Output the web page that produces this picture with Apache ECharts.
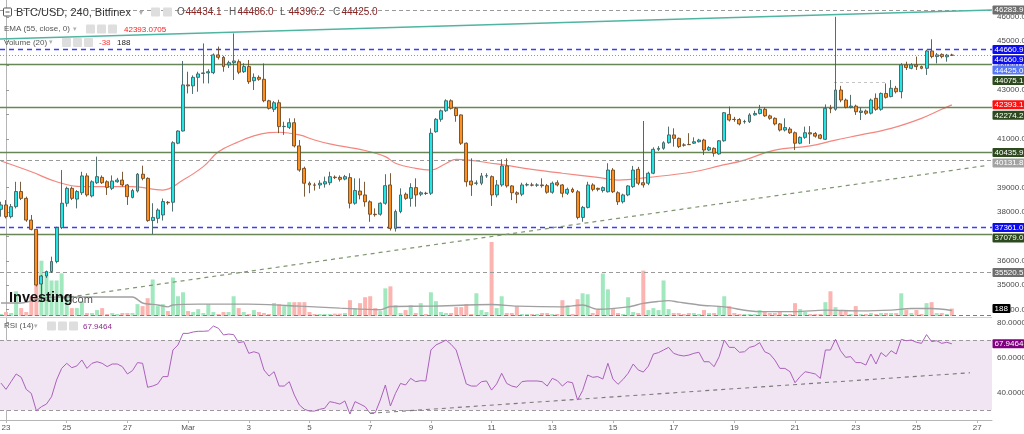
<!DOCTYPE html>
<html><head><meta charset="utf-8">
<script src="https://cdn.jsdelivr.net/npm/echarts@6.0.0/dist/echarts.min.js"></script>
<style>html,body{margin:0;padding:0;background:#fff}#c{width:1024px;height:434px}</style>
</head><body><div id="c"></div><script>
// ---- DATA (4-hour candles, index 0 = 23 Feb 00:00) ----
const START_INDEX = -1;
// [open, close, low, high]
const candles = [
 [38110,38290,37810,38420],
 [38290,37810,37740,38490],[37810,38220,37740,38330],[38220,38840,38150,39240],[38840,38560,38490,39240],[38560,37670,37600,38630],[37670,37290,37250,37880],
 [37290,35010,34950,37290],[35050,35380,34330,35420],[35380,35560,35300,35600],[35560,35970,35500,36170],[35970,37360,35900,37400],[37360,38360,37300,39720],
 [38360,38970,38220,39040],[38970,38560,38490,39040],[38530,38840,38150,38900],[38790,39480,38700,39650],[39480,38700,38630,39590],[38660,39240,38600,39300],
 [39200,39450,39150,40270],[39420,39200,39150,39500],[39240,39010,38700,39300],[38970,39270,38900,39500],[39240,39310,39200,39400],[39310,39110,39040,39650],
 [39110,38630,38290,39150],[38600,38880,38560,38950],[38860,39550,38800,39600],[39550,39380,39300,39900],[39380,37650,37600,39420],[37650,37780,37090,38360],
 [37740,38080,37540,38150],[37880,38430,37650,38550],[38400,38380,38300,38450],[38400,40840,38020,40900],[40820,41320,40780,41350],[41320,43210,41300,44190],
 [43210,43170,42860,43750],[43170,43520,42840,43600],[43520,43660,42930,43750],[43680,43700,43270,44910],[43700,43750,43270,43850],[43710,44440,43650,44500],
 [44440,44340,44250,44780],[44340,43960,43750,44400],[44030,44120,43900,44200],[44120,44190,43410,45320],[44160,43730,43650,44250],[43750,43960,43700,44100],
 [43960,43340,43250,44230],[43380,43520,43000,43680],[43520,43440,43380,43600],[43440,42560,42500,44090],[42560,42250,42200,42600],[42210,42480,42100,42550],
 [42480,41500,41230,42600],[41500,41510,41160,41700],[41470,41660,41400,41840],[41660,40710,40650,41840],[40710,39720,39650,40950],[39790,39180,38630,39860],
 [39180,39110,38770,39250],[39110,39100,38880,39200],[39110,39180,38950,39300],[39150,39240,39000,39450],[39200,39450,39100,39650],[39430,39410,39350,39500],
 [39420,39340,39250,39500],[39350,39450,39300,39520],[39410,38360,38150,39590],[38360,38880,38300,39380],[38860,38700,38520,39380],[38700,38420,38220,39240],
 [38420,37910,37600,38480],[37910,37890,37810,38150],[37910,38360,37850,38400],[38360,39080,38300,39550],[39110,37330,37240,39590],[37330,38020,37200,38100],
 [38020,38700,37950,38970],[38730,38560,38500,38800],[38560,39000,38220,39180],[39000,38700,38220,39380],[38730,38790,38650,38850],[38770,38760,38700,38830],
 [38770,41230,38700,41430],[41290,41800,41250,41850],[41800,42150,41700,42200],[42150,42560,42100,42620],[42560,42250,42200,42620],[42250,41950,41700,42300],
 [41980,40820,40750,42000],[40820,39240,39040,40850],[39270,39110,38660,40200],[39180,39190,39100,39300],[39180,39480,39100,39600],[39480,39490,39400,39590],
 [39450,38700,38250,39500],[38700,39110,38600,39310],[39110,39890,39040,40160],[39890,39070,39000,40200],[39070,38790,38490,39100],[38790,38730,38360,38850],
 [38730,39110,38650,39200],[39110,39120,39050,39200],[39110,39100,39050,39200],[39100,39110,39030,39180],[39110,39080,39000,39380],[39080,38810,38750,39150],
 [38810,39180,38750,39250],[39200,39110,39050,39300],[39110,38770,38600,39150],[38770,38930,38700,39000],[38930,38830,38780,39000],[38830,37780,37700,38900],
 [37780,38190,37600,38250],[38190,39110,38150,39240],[39110,38930,38850,39180],[38970,38930,38850,39000],[38880,39000,38800,39050],[38830,39720,38800,40000],
 [39720,38830,38780,39800],[38790,38420,38290,38850],[38420,38700,38350,38750],[38700,39070,38650,39100],[39040,39720,38990,39890],[39750,39180,39100,39850],
 [39200,39110,39000,41730],[39180,39590,39100,39650],[39590,40570,39550,40650],[40570,40610,40500,40700],[40610,40840,40550,40900],[40840,41160,40800,41500],
 [41160,41020,40680,41430],[41020,40680,40620,41050],[40750,40740,40680,40820],[40770,40760,40750,41230],[40820,40880,40790,41060],[40880,40950,40850,41000],
 [40950,40540,40340,41000],[40540,40640,40500,40700],[40610,40410,40270,40650],[40380,40920,40350,40950],[40920,42070,40880,42100],[42000,41770,41710,42320],
 [41800,41790,41700,41900],[41790,41610,41550,41850],[41700,41710,41620,41780],[41700,41980,41650,42050],[41980,42040,41950,42150],[42040,42210,42000,42390],
 [42210,41940,41900,42290],[41940,41840,41780,41990],[41840,41610,41550,41880],[41610,41360,41300,41650],[41360,41460,41300,41840],[41400,41250,41200,41480],
 [41250,40820,40540,41300],[40820,41060,40780,41100],[41060,41250,41000,41500],[41250,41200,40790,41520],[41220,41110,41050,41280],[41160,41020,40980,41200],
 [40980,42250,40950,42410],[42250,42230,42050,42390],[42210,43000,42150,46000],[43000,42590,42500,43170],[42590,42290,42250,42650],[42290,42340,42250,42800],
 [42340,42110,41980,42400],[42080,42140,41770,42290],[42140,42050,41980,42200],[42050,42590,42000,42650],[42660,42210,42150,42860],[42210,42860,42150,42900],
 [42860,42700,42650,43270],[42730,43070,42700,43410],[43070,42930,42860,43170],[42930,44030,42660,44100],[44030,43920,43820,44160],[43890,44030,43850,44100],
 [44030,43960,43820,44370],[43960,43890,43850,44000],[43890,44600,43620,44650],[44600,44370,44300,45080],[44370,44440,44090,44520],[44460,44370,44300,44500],
 [44360,44430,44160,44480],[44434.1,44425.0,44396.2,44486.0]
];
const volumes = [
 50,
 100,75,625,200,100,500,
 2150,1400,1130,900,900,1080,
 500,200,200,375,75,75,
 150,200,50,75,50,75,
 75,75,300,250,450,925,
 250,300,125,975,500,600,
 125,100,175,75,300,100,
 50,100,100,500,200,100,
 50,150,100,75,50,330,
 300,250,350,350,350,350,
 100,50,50,50,50,60,
 60,75,400,200,325,475,
 500,200,125,700,750,275,
 75,150,275,75,325,50,
 600,375,100,75,75,225,
 225,300,50,575,150,100,
 1875,200,500,75,75,250,
 50,50,50,50,75,75,
 50,50,400,275,50,425,
 575,550,75,150,1075,675,
 175,75,50,475,100,75,
 1150,150,200,150,900,175,
 75,75,50,75,75,50,
 150,75,75,250,500,250,
 75,50,50,50,50,150,
 100,75,75,100,50,50,
 325,175,100,50,50,50,
 350,625,225,150,125,50,
 250,50,50,75,50,75,
 75,75,75,575,150,75,
 150,50,325,350,75,75,
 50,188
];
const rsiValues = [
 45.5,
 41.9,46.3,50.7,48.8,41.9,39.6,
 29.7,32,33.5,37.7,47.3,53.9,
 56.8,54.3,55.3,58.7,53.9,56.8,
 57.7,56.8,54.9,56.4,56.4,54.9,
 50.7,52.6,57.2,56.8,43.1,43.8,
 45,49.2,49.2,64.4,67.3,73.9,
 73.9,74.7,75.1,75.1,75.3,78.1,
 76.8,73,73.5,73.2,68.6,69.2,
 62.5,63.4,62.5,53,49.5,52,
 43.8,43.8,46.3,38.7,33,30.5,
 29.5,29.5,30.5,31.1,34.9,34.3,
 33.5,35.3,27.8,34.9,33.5,32,
 28.2,28.6,35.8,44.4,32.4,39.6,
 45.3,44.4,48.2,46.3,46.9,46.7,
 64.4,67.3,68.6,70.1,67.6,64.4,
 54.9,45,43.8,43.8,46.3,46.7,
 41.5,45,51.1,45.3,43.8,43.1,
 46.3,46.7,46.7,46.7,46.3,43.8,
 48.2,46.9,43.8,46.3,45.7,35.8,
 41.2,50.1,48.8,49.2,47.8,56.8,
 47.8,44.8,47.6,51.1,56.4,53,
 51.8,55.2,62.1,62.9,64.4,65.9,
 62.5,61.5,61,61.5,62.5,63.1,
 57.7,57.7,54.9,60.6,70.1,65.9,
 65.9,63.1,63.4,65.9,66.7,68.6,
 63.4,62.1,58.7,53.9,53.9,52,
 45.7,49.2,52,51.4,50.7,48.2,
 64.4,64.4,70.5,64,60.2,60.6,
 57.2,57.2,55.8,62.1,56.4,62.9,
 60.6,64,62.1,70.5,69.7,70.1,
 68.8,68.2,73.2,69.2,69.7,68.2,
 68.8,67.95
];
// [candle index, value]
const emaPoints = [[-1,40090],[5,39650],[10,39240],[15,39040],[25,39040],[31,38900],[35,39310],[39,39860],[42,40470],[46,40880],[49,41120],[52,41250],[54,41270],[58,41160],[61,40950],[64,40790],[71,40520],[75,40270],[77,40000],[81,39790],[84,39720],[87,39990],[89,40160],[97,39970],[104,39750],[110,39590],[117,39420],[121,39310],[127,39420],[136,39650],[141,39890],[146,40130],[152,40540],[159,40710],[164,40950],[169,41160],[175,41430],[181,41840],[185,42210],[187,42393]];
const volumeMaPoints = [[-1,330],[3,330],[7,450],[11,480],[19,480],[25,480],[27,330],[30,280],[32,230],[33,280],[38,300],[48,300],[58,250],[66,200],[74,160],[76,240],[84,250],[96,290],[101,250],[110,230],[114,280],[117,170],[123,230],[126,320],[129,370],[131,390],[133,350],[137,280],[142,230],[149,110],[156,110],[162,150],[169,130],[175,150],[179,190],[183,190],[187,140]];
const grayLevels = [46283.9, 40131.8, 35520.5];
const blueLevels = [44660.9, 37361.0];
const greenLevels = [44075.1, 42274.2, 40435.9, 37079.0];
const lastPrice = 44425.0;
const lastEma = 42393.0705;
const lastVolume = 188;
const volumeChange = -38;
const lastRsi = 67.9464;
const ohlcLegend = [44434.1, 44486.0, 44396.2, 44425.0];
const tealTrend = [[-1.19, 45091], [194.94, 46279]];
const supportTrend = [[6.33, 34330], [193.6, 39900]];
const spikeLevel = [[163.7, 43300], [173.8, 43300]];
const rsiTrend = [[71.97, 28.2], [190.6, 51.4]];
const rsiBands = [30, 70];
const priceTicks = [34000,35000,36000,37000,38000,39000,40000,41000,42000,43000,44000,45000,46000];
const rsiTicks = [40, 60, 80];
const dayTicks = [0,12,24,36,48,60,72,84,96,108,120,132,144,156,168,180,192];
const dayLabels = ['23','25','27','Mar','3','5','7','9','11','13','15','17','19','21','23','25','27'];

// ---- CHART ----
const FONT = '"Liberation Sans", Arial, sans-serif';
const X_MIN = -1.19, X_MAX = 194.94;
const PRICE_MIN = 33739, PRICE_MAX = 46689;
const VOLUME_MAX = 8000;
const RSI_MIN = 24.4, RSI_MAX = 82.69;

const chart = echarts.init(document.getElementById('c'), null, {renderer: 'canvas'});
const isUp = candles.map(c => c[1] >= c[0]);
const candleData = candles.map((c, k) => [START_INDEX + k, c[0], c[1], c[2], c[3]]);
const volumeData = volumes.map((v, k) => ({value: [START_INDEX + k, v], itemStyle: {color: isUp[k] ? '#a1e8bf' : '#fbb4af'}}));
const rsiData = rsiValues.map((v, k) => [START_INDEX + k, v]);

const priceLines = [];
grayLevels.forEach(v => priceLines.push({yAxis: v, lineStyle: {color: '#9a9a9a', type: [4, 3], width: 1}}));
blueLevels.forEach(v => priceLines.push({yAxis: v, lineStyle: {color: '#3c3cff', type: [5, 4], width: 1.4}}));
greenLevels.forEach(v => priceLines.push({yAxis: v, lineStyle: {color: '#688656', type: 'solid', width: 1.3}}));
priceLines.push({yAxis: lastPrice, lineStyle: {color: '#7d8cff', type: [1, 2], width: 1}});
priceLines.push([{coord: tealTrend[0], lineStyle: {color: '#4fb5a0', width: 1.6, type: 'solid'}}, {coord: tealTrend[1]}]);
priceLines.push([{coord: supportTrend[0], lineStyle: {color: '#7f9670', width: 1.2, type: [4, 4]}}, {coord: supportTrend[1]}]);
priceLines.push([{coord: spikeLevel[0], lineStyle: {color: '#c4c4c4', width: 1, type: [3, 3]}}, {coord: spikeLevel[1]}]);

const option = {
  animation: false,
  backgroundColor: '#ffffff',
  textStyle: {fontFamily: FONT},
  grid: [
    {left: 0, right: 32, top: 0, height: 316, containLabel: false, outerBoundsMode: 'none'},
    {left: 0, right: 32, top: 318, height: 102, containLabel: false, outerBoundsMode: 'none'}
  ],
  xAxis: [
    {type: 'value', gridIndex: 0, min: X_MIN, max: X_MAX, show: false},
    {type: 'value', gridIndex: 1, min: X_MIN, max: X_MAX, splitLine: {show: false},
     axisLine: {show: true, lineStyle: {color: '#b5b5b5'}},
     axisTick: {show: true, customValues: dayTicks, length: 3, lineStyle: {color: '#b5b5b5'}},
     axisLabel: {customValues: dayTicks, formatter: v => dayLabels[dayTicks.indexOf(v)] || '', color: '#555', fontSize: 8, margin: 4, fontFamily: FONT}}
  ],
  yAxis: [
    {type: 'value', gridIndex: 0, position: 'right', min: PRICE_MIN, max: PRICE_MAX,
     splitLine: {show: false}, axisLine: {show: true, lineStyle: {color: '#b5b5b5'}},
     axisTick: {show: true, customValues: priceTicks, length: 3, lineStyle: {color: '#999'}},
     axisLabel: {show: false}},
    {type: 'value', gridIndex: 0, min: 0, max: VOLUME_MAX, show: false},
    {type: 'value', gridIndex: 1, position: 'right', min: RSI_MIN, max: RSI_MAX,
     splitLine: {show: false}, axisLine: {show: true, lineStyle: {color: '#b5b5b5'}},
     axisTick: {show: true, customValues: rsiTicks, length: 3, lineStyle: {color: '#999'}},
     axisLabel: {show: false}}
  ],
  series: [
    {type: 'bar', name: 'Volume', xAxisIndex: 0, yAxisIndex: 1, data: volumeData, barWidth: 4, z: 1, silent: true,
     markLine: {silent: true, symbol: ['none', 'none'], label: {show: false},
       data: [{yAxis: 20, lineStyle: {color: '#2fb52f', type: [4, 3], width: 1.2}}]}},
    {type: 'line', name: 'VolMA', xAxisIndex: 0, yAxisIndex: 1, data: volumeMaPoints, showSymbol: false, smooth: 0.3,
     lineStyle: {color: '#a0a0a0', width: 1.4}, z: 2, silent: true},
    {type: 'line', name: 'EMA', xAxisIndex: 0, yAxisIndex: 0, data: emaPoints, showSymbol: false, smooth: 0.4,
     lineStyle: {color: '#f3877f', width: 1.2}, z: 3, silent: true},
    {type: 'candlestick', name: 'BTCUSD', xAxisIndex: 0, yAxisIndex: 0, data: candleData, encode: {x: 0, y: [1, 2, 3, 4]},
     barWidth: 3.4, clip: true, z: 5, silent: true,
     itemStyle: {color: '#22e6e6', color0: '#ff8f1f', borderColor: '#3f6060', borderColor0: '#6e4a26', borderWidth: 0.9},
     markLine: {silent: true, symbol: ['none', 'none'], label: {show: false}, data: priceLines}},
    {type: 'line', name: 'RSI', xAxisIndex: 1, yAxisIndex: 2, data: rsiData, showSymbol: false,
     lineStyle: {color: '#aa62ba', width: 1}, z: 5, silent: true,
     markArea: {silent: true, itemStyle: {color: '#f1e4f3'}, data: [[{yAxis: rsiBands[0]}, {yAxis: rsiBands[1]}]]},
     markLine: {silent: true, symbol: ['none', 'none'], label: {show: false}, data: [
       {yAxis: rsiBands[1], lineStyle: {color: '#9a9a9a', type: [4, 3], width: 1}},
       {yAxis: rsiBands[0], lineStyle: {color: '#9a9a9a', type: [4, 3], width: 1}},
       [{coord: rsiTrend[0], lineStyle: {color: '#7a7a7a', type: [4, 4], width: 1.1}}, {coord: rsiTrend[1]}]
     ]}}
  ]
};
chart.setOption(option);

// ---- overlay texts / right-axis tags ----
const G = [];
function txt(x, y, s, color, size, weight, align, z) {
  G.push({type: 'text', x: x, y: y, z: z || 100, silent: true,
    style: {text: s, fill: color, font: (weight || 'normal') + ' ' + size + 'px ' + FONT, align: align || 'left', verticalAlign: 'middle'}});
}
function box(x, y, w, h, fill, stroke) {
  G.push({type: 'rect', z: 99, silent: true, shape: {x: x, y: y, width: w, height: h, r: 1},
    style: {fill: fill || 'none', stroke: stroke || 'none', lineWidth: 1}});
}
function icons(xs, y) { xs.forEach(x => box(x, y - 4.5, 9, 9, '#dedede')); }

// separator between panes
G.push({type: 'line', z: 50, silent: true, shape: {x1: 0, y1: 317.5, x2: 992, y2: 317.5}, style: {stroke: '#d0d0d0', lineWidth: 1}});

// axis tick labels (drawn beneath the value tags)
priceTicks.forEach(v => txt(997, chart.convertToPixel({yAxisIndex: 0}, v), v.toFixed(1), '#4a4a4a', 8, 'normal', 'left', 60));
rsiTicks.forEach(v => txt(997, chart.convertToPixel({yAxisIndex: 2}, v), v.toFixed(4), '#4a4a4a', 8, 'normal', 'left', 60));

// legend rows
box(3.5, 8, 8, 8, '#fff', '#555');
G.push({type: 'line', z: 101, silent: true, shape: {x1: 5.5, y1: 12, x2: 9.5, y2: 12}, style: {stroke: '#555', lineWidth: 1}});
txt(16, 12.5, 'BTC/USD, 240, Bitfinex', '#333', 11);
txt(139, 12.5, '\u25BE', '#b0b0b0', 8);
icons([151, 163], 12);
const ohlcLetters = ['O', 'H', 'L', 'C'];
const ohlcX = [177, 229, 280, 333];
ohlcLegend.forEach((v, k) => {
  txt(ohlcX[k], 12.5, ohlcLetters[k], '#555', 10);
  txt(ohlcX[k] + 8.5, 12.5, v.toFixed(1), '#8b2323', 10);
});
txt(4, 29, 'EMA (55, close, 0)', '#555', 8);
txt(73, 29, '\u25BE', '#b0b0b0', 7);
icons([86, 97, 108], 29);
txt(124, 29.5, lastEma.toFixed(4), '#ff1a1a', 8);
txt(4, 42.5, 'Volume (20)', '#555', 8);
txt(49, 42.5, '\u25BE', '#b0b0b0', 7);
icons([62, 73, 84], 42.5);
txt(99, 43, String(volumeChange), '#ff4040', 8);
txt(117, 43, String(lastVolume), '#222', 8);
txt(4, 326, 'RSI (14)', '#555', 8);
txt(34, 326, '\u25BE', '#b0b0b0', 7);
icons([47, 58, 69], 326);
txt(83, 326.5, lastRsi.toFixed(4), '#8f2a8f', 8);

// watermark
txt(9, 298, 'Investing', '#111', 14.5, 'bold');
txt(69, 300, '.com', '#555', 11);

// right-side value tags
const tagColors = {gray: '#6e6e6e', light: '#a3a3a3', blue: '#0c0cf2', last: '#5677f6', green: '#2d4a1e', ema: '#ff1010', black: '#000', purple: '#800080'};
const priceTags = [
  [grayLevels[0], 'gray'], [blueLevels[0], 'blue'], [blueLevels[0], 'blue'], [lastPrice, 'last'],
  [greenLevels[0], 'green'], [lastEma, 'ema'], [greenLevels[1], 'green'], [greenLevels[2], 'green'],
  [grayLevels[1], 'light'], [blueLevels[1], 'blue'], [greenLevels[3], 'green'], [grayLevels[2], 'gray']
];
const tags = priceTags.map(t => ({y: chart.convertToPixel({yAxisIndex: 0}, t[0]), text: t[0].toFixed(1), color: tagColors[t[1]], w: 32}));
tags.push({y: chart.convertToPixel({yAxisIndex: 1}, lastVolume), text: String(lastVolume), color: tagColors.black, w: 18});
tags.sort((a, b) => a.y - b.y);
for (let k = 1; k < tags.length; k++) if (tags[k].y < tags[k - 1].y + 10.3) tags[k].y = tags[k - 1].y + 10.3;
tags.push({y: chart.convertToPixel({yAxisIndex: 2}, lastRsi), text: lastRsi.toFixed(4), color: tagColors.purple, w: 32});
tags.forEach(t => {
  box(992.5, t.y - 4.5, t.w, 9, t.color);
  txt(994.5, t.y + 0.3, t.text, '#fff', 8);
});

chart.setOption({graphic: G});
</script></body></html>
